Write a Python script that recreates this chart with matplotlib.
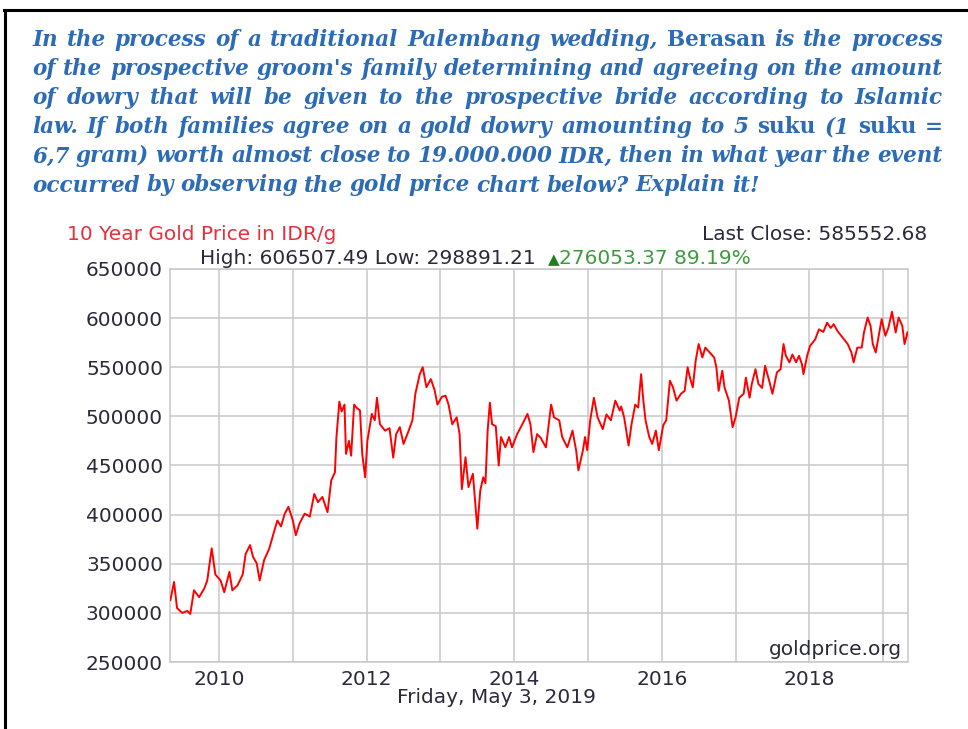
import matplotlib
matplotlib.use('Agg')
import matplotlib.pyplot as plt
from matplotlib.lines import Line2D
from matplotlib.ticker import FixedLocator

# ---------------- data ----------------
years = [
    2009.34, 2009.39, 2009.43, 2009.50, 2009.57, 2009.61, 2009.66, 2009.73, 2009.80, 2009.84, 2009.90, 2009.95,
    2010.02, 2010.07, 2010.14, 2010.18, 2010.25, 2010.32, 2010.36, 2010.42, 2010.46, 2010.51, 2010.55, 2010.61,
    2010.68, 2010.75, 2010.79, 2010.84, 2010.89, 2010.94,
    2011.00, 2011.04, 2011.09, 2011.16, 2011.23, 2011.29, 2011.34, 2011.40, 2011.47, 2011.52, 2011.57, 2011.59,
    2011.63, 2011.66, 2011.70, 2011.72, 2011.76, 2011.79, 2011.83, 2011.86, 2011.91, 2011.94, 2011.98,
    2012.01, 2012.07, 2012.11, 2012.14, 2012.18, 2012.25, 2012.31, 2012.36, 2012.40, 2012.45, 2012.50, 2012.57,
    2012.62, 2012.66, 2012.72, 2012.76, 2012.81, 2012.87, 2012.92, 2012.96,
    2013.02, 2013.07, 2013.11, 2013.16, 2013.22, 2013.26, 2013.29, 2013.34, 2013.38, 2013.44, 2013.50, 2013.54,
    2013.58, 2013.61, 2013.64, 2013.67, 2013.70, 2013.75, 2013.79, 2013.82, 2013.88, 2013.93, 2013.97,
    2014.04, 2014.11, 2014.18, 2014.22, 2014.26, 2014.31, 2014.36, 2014.43, 2014.50, 2014.54, 2014.61, 2014.65,
    2014.72, 2014.79, 2014.84, 2014.87, 2014.93, 2014.96, 2014.99,
    2015.03, 2015.08, 2015.13, 2015.20, 2015.25, 2015.31, 2015.37, 2015.43, 2015.45, 2015.49, 2015.55, 2015.59,
    2015.64, 2015.68, 2015.72, 2015.75, 2015.78, 2015.83, 2015.87, 2015.92, 2015.96,
    2016.02, 2016.06, 2016.11, 2016.15, 2016.20, 2016.26, 2016.31, 2016.35, 2016.38, 2016.42, 2016.46, 2016.50,
    2016.55, 2016.59, 2016.65, 2016.71, 2016.74, 2016.77, 2016.82, 2016.85, 2016.91, 2016.96,
    2017.00, 2017.05, 2017.11, 2017.14, 2017.19, 2017.22, 2017.27, 2017.31, 2017.36, 2017.40, 2017.46, 2017.50,
    2017.56, 2017.61, 2017.65, 2017.68, 2017.73, 2017.77, 2017.82, 2017.86, 2017.90, 2017.92, 2017.97,
    2018.01, 2018.08, 2018.13, 2018.19, 2018.24, 2018.29, 2018.33, 2018.38, 2018.45, 2018.52, 2018.57, 2018.60,
    2018.65, 2018.71, 2018.74, 2018.79, 2018.83, 2018.86, 2018.90, 2018.94, 2018.98,
    2019.03, 2019.07, 2019.12, 2019.17, 2019.21, 2019.26, 2019.29, 2019.33,
]
prices = [
    313000, 331500, 305000, 300000, 302000, 298900, 323000, 316000, 325000, 333000, 365700, 339000,
    333000, 321000, 341700, 323000, 328000, 339000, 360000, 369000, 357000, 350500, 333000, 353600,
    365400, 384000, 394000, 388000, 401000, 408000,
    394000, 379000, 391000, 401000, 398000, 421000, 412700, 418000, 402500, 434800, 443000, 478000,
    515000, 505000, 512000, 461800, 475000, 460000, 512000, 509000, 506000, 462000, 438000,
    475000, 502500, 496000, 519000, 492000, 485500, 488000, 458000, 482000, 489000, 472000, 485500,
    496000, 522900, 543000, 550000, 529700, 538000, 527000, 512000,
    520000, 521000, 512000, 492000, 499000, 482000, 426000, 458400, 428000, 441600, 385700, 424600,
    438000, 432000, 485500, 514000, 492000, 490000, 450000, 479000, 468500, 479000, 468500,
    482000, 492000, 502500, 492000, 463600, 482000, 478000, 468500, 512000, 499000, 496000, 479000,
    468500, 485500, 465000, 445000, 465000, 479000, 465500,
    496000, 519000, 499000, 487000, 502000, 496000, 516000, 506000, 510000, 499000, 470300, 492000,
    512000, 509000, 543000, 516000, 496000, 479000, 472000, 485500, 465500,
    491000, 496000, 536300, 530000, 516000, 523000, 526000, 550000, 540000, 529500, 557000, 573600,
    560000, 570000, 565000, 560000, 550000, 526000, 546500, 529500, 516000, 489000,
    499000, 519000, 523000, 539500, 519000, 533000, 548000, 533000, 529000, 551500, 535000, 523000,
    544700, 548000, 573600, 562000, 555000, 563000, 555000, 561700, 553000, 543000, 561700,
    571800, 578500, 588600, 586000, 595400, 590000, 593800, 587000, 580300, 573600, 565000, 555000,
    570000, 570000, 585400, 600600, 592000, 573600, 565000, 582000, 599000,
    582000, 590000, 606500, 585400, 600600, 592000, 573600, 585550,
]
y_ticks = [250000, 300000, 350000, 400000, 450000, 500000, 550000, 600000, 650000]
x_label_years = [2010, 2012, 2014, 2016, 2018]
x_grid_years = [2011, 2013, 2015, 2017, 2019]

chart_title = "10 Year Gold Price in IDR/g"
last_close = "Last Close: 585552.68"
high_low = "High: 606507.49 Low: 298891.21"
change_text = "276053.37 89.19%"
date_text = "Friday, May 3, 2019"
source_text = "goldprice.org"

para_lines = [
    [("In the process of a traditional Palembang wedding,", 'italic'), ("Berasan", 'normal'),
     ("is the process", 'italic')],
    [("of the prospective groom's family determining and agreeing on the amount", 'italic')],
    [("of dowry that will be given to the prospective bride according to Islamic", 'italic')],
    [("law. If both families agree on a gold dowry amounting to 5", 'italic'), ("suku", 'normal'),
     ("(1", 'italic'), ("suku =", 'normal')],
    [("6,7 gram) worth almost close to 19.000.000 IDR, then in what year the event", 'italic')],
    [("occurred by observing the gold price chart below? Explain it!", 'italic')],
]

# ---------------- figure ----------------
W, H = 968, 729
fig = plt.figure(figsize=(W / 100, H / 100), dpi=100)
fig.patch.set_facecolor('white')


def fx(x):
    return x / W


def fy(y):
    return 1 - y / H


renderer = fig.canvas.get_renderer()

# border of the picture
fig.add_artist(Line2D([fx(5), fx(5)], [fy(10), 0], color='black', lw=2.2, transform=fig.transFigure))
fig.add_artist(Line2D([fx(4), 1], [fy(10), fy(10)], color='black', lw=2.2, transform=fig.transFigure))

# paragraph, justified
PARA_COLOR = '#2c6bb5'
PARA_FONT = 'DejaVu Serif'
PARA_SIZE = 15.5
x_left, x_right = 32, 943
base0, lstep = 46, 29.1
for i, segs in enumerate(para_lines):
    words = []
    for text, style in segs:
        for w in text.split(' '):
            if w:
                words.append((w, style))
    arts = []
    widths = []
    for w, style in words:
        t = fig.text(0, 0, w, fontsize=PARA_SIZE, family=PARA_FONT, style=style,
                     weight='bold', color=PARA_COLOR, va='baseline', ha='left')
        bb = t.get_window_extent(renderer)
        arts.append(t)
        widths.append(bb.width)
    total = sum(widths)
    if i < len(para_lines) - 1:
        gap = (x_right - x_left - total) / (len(words) - 1)
    else:
        gap = PARA_SIZE * 100 / 72 * 0.3
    x = x_left
    yb = base0 + i * lstep
    for t, wd in zip(arts, widths):
        t.set_position((fx(x), fy(yb)))
        x += wd + gap

# ---------------- chart ----------------
FS = 14.5
TXT = '#2b2a3a'
GRID = '#c8c8c8'
ax = fig.add_axes([fx(170), fy(662), (908 - 170) / W, (662 - 269) / H])
ax.plot(years, prices, color='#ff0000', lw=1.4, solid_joinstyle='round', zorder=3)
ax.set_xlim(2009.335, 2019.337)
ax.set_ylim(250000, 650000)
ax.set_yticks(y_ticks)
ax.set_yticklabels([str(v) for v in y_ticks])
ax.set_xticks(x_label_years)
ax.set_xticklabels([str(v) for v in x_label_years])
ax.xaxis.set_minor_locator(FixedLocator(x_grid_years))
ax.tick_params(axis='both', which='both', length=0, labelsize=FS, labelcolor=TXT)
ax.tick_params(axis='y', pad=5)
ax.tick_params(axis='x', pad=6)
ax.grid(True, which='both', color=GRID, lw=1.1)
ax.set_axisbelow(True)
for s in ax.spines.values():
    s.set_color(GRID)
    s.set_linewidth(1.1)

fig.text(fx(67), fy(240), chart_title, fontsize=FS, color='#e8303c', va='baseline', ha='left')
fig.text(fx(927), fy(240), last_close, fontsize=FS, color=TXT, va='baseline', ha='right')
t_hl = fig.text(fx(200), fy(264), high_low, fontsize=FS, color=TXT, va='baseline', ha='left')
x_end = 200 + t_hl.get_window_extent(renderer).width + 12
t_tri = fig.text(fx(x_end), fy(264), "\u25b2", fontsize=FS * 0.75, color='#1e7d1e', va='baseline', ha='left')
x_end += t_tri.get_window_extent(renderer).width
fig.text(fx(x_end), fy(264), change_text, fontsize=FS, color='#3d9b3d', va='baseline', ha='left')

fig.text(fx(496), fy(703), date_text, fontsize=FS, color=TXT, va='baseline', ha='center')
fig.text(fx(902), fy(655), source_text, fontsize=FS, color=TXT, va='baseline', ha='right')

fig.savefig('out.png', dpi=100, facecolor='white')
